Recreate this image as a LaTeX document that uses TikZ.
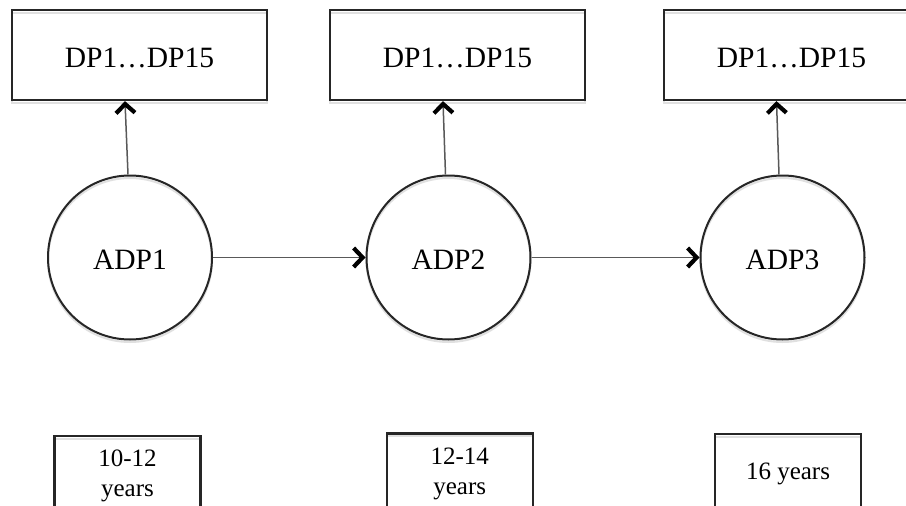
\documentclass[tikz,border=0pt]{standalone}
\usepackage{fontspec}
\setmainfont{Liberation Serif}
\usetikzlibrary{arrows.meta}
\begin{document}
\begin{tikzpicture}[x=1pt,y=-1pt,
  shad/.style={preaction={draw=black!12,line width=2pt,transform canvas={yshift=-2.5pt}}},
  topbox/.style={draw=black!85,line width=2.3pt,shad,rectangle,minimum width=255pt,
    minimum height=90pt,inner sep=0pt,font=\fontsize{29.5}{34}\selectfont,text=black,
    text height=25pt,text depth=0pt},
  adp/.style={draw=black!85,line width=2pt,shad,circle,minimum size=164pt,inner sep=0pt,
    font=\fontsize{29.5}{34}\selectfont,text=black,text height=24pt,text depth=0pt},
  agebox/.style={draw=black!85,line width=2.3pt,shad,rectangle,minimum width=146pt,
    minimum height=80pt,inner sep=0pt,align=center,
    font=\fontsize{25}{30}\selectfont,text=black},
  arr/.style={draw=black!65,line width=1.5pt,
    -{Straight Barb[length=9pt,width=19pt,line width=4.2pt,color=black]}}
]
\useasboundingbox (0,0) rectangle (906,506);
\fill[white] (0,0) rectangle (906,506);
\clip (0,0) rectangle (906,506);

\node[topbox] (t1) at (139.5,55) {DP1…DP15};
\node[topbox] (t2) at (457.5,55) {DP1…DP15};
\node[topbox] (t3) at (791.5,55) {DP1…DP15};

\node[adp] (c1) at (130,257.5) {ADP1};
\node[adp] (c2) at (448.5,257.5) {ADP2};
\node[adp] (c3) at (782.5,257.5) {ADP3};

\draw[arr] ([xshift=-2pt]c1.north) -- ([xshift=-14.5pt]t1.south);
\draw[arr] ([xshift=-3pt]c2.north) -- ([xshift=-14.5pt]t2.south);
\draw[arr] ([xshift=-3.5pt]c3.north) -- ([xshift=-15pt]t3.south);

\draw[arr] (c1.east) -- (c2.west);
\draw[arr] (c2.east) -- (c3.west);

\node[agebox] (a1) at (127.5,476) {10-12\\years};
\node[agebox] (a2) at (459.7,473.5) {12-14\\years};
\node[agebox] (a3) at (788,474) {16 years};
\end{tikzpicture}
\end{document}
